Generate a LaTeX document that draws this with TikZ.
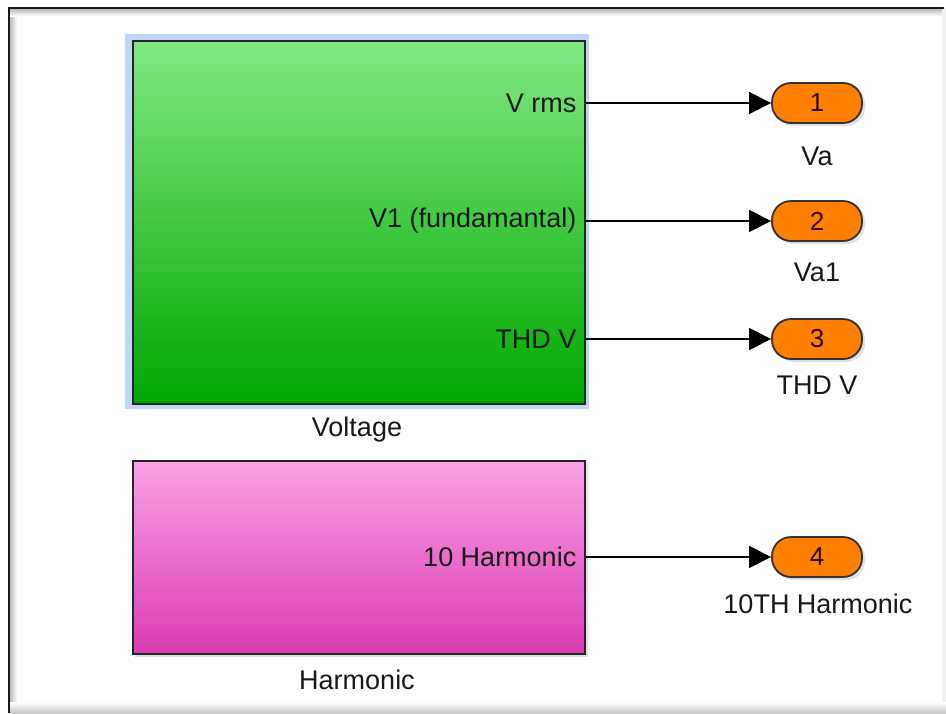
\documentclass[tikz,border=0pt]{standalone}
\usepackage{fontspec}
\setmainfont{Liberation Sans}
\usetikzlibrary{arrows.meta}
\definecolor{gtop}{RGB}{130,232,130}
\definecolor{gbot}{RGB}{0,168,0}
\definecolor{ptop}{RGB}{250,162,230}
\definecolor{pbot}{RGB}{218,58,178}
\definecolor{orng}{RGB}{255,128,0}
\definecolor{selblue}{RGB}{190,215,245}
\tikzset{
  txt/.style={font=\fontsize{27}{30}\selectfont, text=black!90, inner sep=0pt},
  blockbox/.style={draw=black!85, line width=1.5pt, minimum width=452pt, inner sep=0pt},
  portlbl/.style={txt, anchor=east, inner xsep=9pt},
  outport/.style={draw=black!80, line width=1.8pt, fill=orng, rounded corners=19pt,
     minimum width=90pt, minimum height=40pt, inner sep=0pt, font=\fontsize{26}{30}\selectfont,
     text=black!80!red},
  portshadow/.style={fill=black!12, rounded corners=19pt},
  conn/.style={line width=1.2pt, black, -{Triangle[length=22pt,width=22pt]}},
}
\begin{document}
\begin{tikzpicture}[x=1pt,y=-1pt]
\useasboundingbox[fill=white] (0,0) rectangle (946,713);
% frame with inner shading
\shade[left color=black!30, right color=white] (9,8) rectangle (17,708);
\shade[top color=black!30, bottom color=white] (9,8) rectangle (944,16);
\fill[black!6] (942,8) rectangle (946,713);
\shade[top color=white, bottom color=black!22] (9,702) rectangle (946,713);
\draw[line width=2.2pt, black!90] (9,713) -- (9,8) -- (944,8);
% Voltage block
\fill[selblue] (125,34) rectangle (589,409);
\node[blockbox, minimum height=363pt, anchor=north west, top color=gtop, bottom color=gbot] (volt) at (132,40) {};
\node[txt] (voltlbl) at (357,430) {Voltage};
% Harmonic block
\fill[black!12] (135,463) rectangle (588,657);
\node[blockbox, minimum height=193pt, anchor=north west, top color=ptop, bottom color=pbot] (harm) at (132,460) {};
\node[txt] (harmlbl) at (357,680) {Harmonic};
% port labels
\node[portlbl] (vrms) at (volt.east |- 0,103) {V rms};
\node[portlbl] (vfund) at (volt.east |- 0,221) {V1 (fundamantal)};
\node[portlbl] (thd) at (volt.east |- 0,339) {THD V};
\node[portlbl] (h10) at (harm.east |- 0,557) {10 Harmonic};
% outport shadows
\foreach \y in {103,221,339,557}{
  \fill[portshadow] (775,\y-18) rectangle (865,\y+23);
}
\node[outport] (o1) at (817,103) {1};
\node[outport] (o2) at (817,221) {2};
\node[outport] (o3) at (817,339) {3};
\node[outport] (o4) at (817,557) {4};
\node[txt] (l1) at (817,156) {Va};
\node[txt] (l2) at (817,272) {Va1};
\node[txt] (l3) at (817,385) {THD V};
\node[txt] (l4) at (818,604) {10TH Harmonic};
% connectors
\draw[conn] (vrms.east) -- (o1.west);
\draw[conn] (vfund.east) -- (o2.west);
\draw[conn] (thd.east) -- (o3.west);
\draw[conn] (h10.east) -- (o4.west);
\end{tikzpicture}
\end{document}
